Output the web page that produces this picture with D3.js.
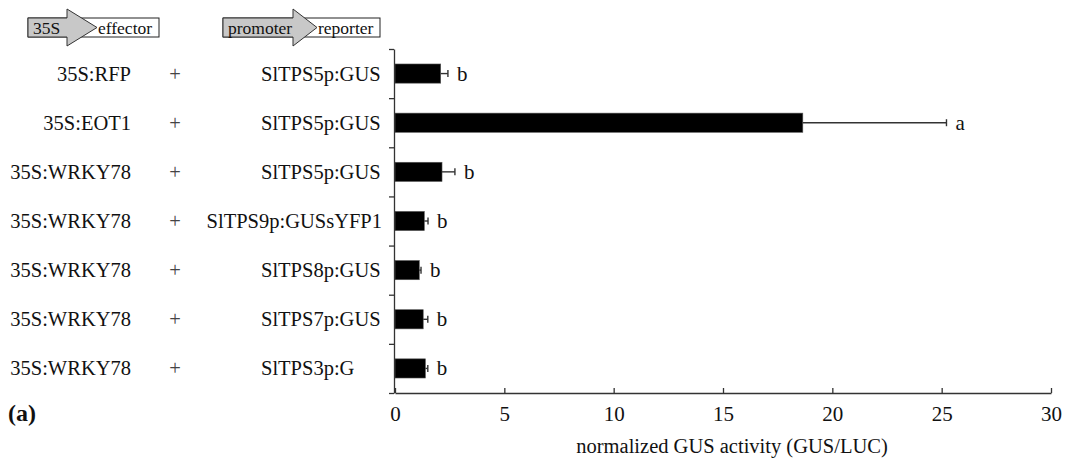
<!DOCTYPE html>
<html>
<head>
<meta charset="utf-8">
<script src="https://cdn.jsdelivr.net/npm/d3@7"></script>
<style>
  body { margin: 0; background: #fff; }
  svg { display: block; font-family: "Liberation Serif", "Times New Roman", serif; }
</style>
</head>
<body>
<svg id="chart"></svg>
<script>
// data
const effectors = ["35S:RFP", "35S:EOT1", "35S:WRKY78", "35S:WRKY78", "35S:WRKY78", "35S:WRKY78", "35S:WRKY78"];
const reporters = ["SlTPS5p:GUS", "SlTPS5p:GUS", "SlTPS5p:GUS", "SlTPS9p:GUSsYFP1", "SlTPS8p:GUS", "SlTPS7p:GUS", "SlTPS3p:G"];
const gusValues = [2.09, 18.65, 2.15, 1.34, 1.11, 1.29, 1.39];
const gusErrors = [0.33, 6.57, 0.59, 0.17, 0.08, 0.21, 0.11];
const sigLetters = ["b", "a", "b", "b", "b", "b", "b"];
const xTicks = [0, 5, 10, 15, 20, 25, 30];
const xTitle = "normalized GUS activity (GUS/LUC)";

const W = 1066, H = 463;
const plotLeft = 395, plotRight = 1051, plotTop = 49, plotBottom = 393;

const svg = d3.select('#chart')
    .attr('width', W)
    .attr('height', H);

const x = d3.scaleLinear()
    .domain([0, 30])
    .range([plotLeft, plotRight]);

const rows = d3.scaleBand()
    .domain(d3.range(gusValues.length))
    .range([plotTop, plotBottom])
    .padding(0);

const barH = rows.bandwidth() * 0.39;
const mid = i => rows(i) + rows.bandwidth() / 2;

// header schematics (promoter arrows)
function construct(x0, xBase, xTip, x1, leftText, rightText) {
    const g = svg.append('g');
    const top = 18, bot = 37, cy = (top + bot) / 2;
    g.append('rect')
        .attr('x', x0).attr('y', top)
        .attr('width', x1 - x0).attr('height', bot - top)
        .attr('fill', '#fff').attr('stroke', '#222').attr('stroke-width', 1);
    g.append('path')
        .attr('d', `M${x0},${top}H${xBase}V${top - 9}L${xTip},${cy}L${xBase},${bot + 9}V${bot}H${x0}Z`)
        .attr('fill', '#c8c8c8').attr('stroke', '#333').attr('stroke-width', 1);
    g.append('text').attr('x', x0 + 5).attr('y', cy + 6)
        .attr('font-size', 17.5).attr('fill', '#111').text(leftText);
    g.append('text').attr('x', xTip + 1).attr('y', cy + 6)
        .attr('font-size', 17.5).attr('fill', '#111').text(rightText);
}
construct(28, 67, 97, 159, "35S", "effector");
construct(223, 293, 317, 380, "promoter", "reporter");

// row labels
svg.append('g').selectAll('text')
    .data(effectors)
    .join('text')
    .attr('x', 131)
    .attr('y', (d, i) => mid(i) + 7)
    .attr('text-anchor', 'end')
    .attr('font-size', 20.5)
    .attr('fill', '#111')
    .text(d => d);

svg.append('g').selectAll('text')
    .data(effectors)
    .join('text')
    .attr('x', 175)
    .attr('y', (d, i) => mid(i) + 7)
    .attr('text-anchor', 'middle')
    .attr('font-size', 20.5)
    .attr('fill', '#444')
    .text('+');

svg.append('g').selectAll('text')
    .data(reporters)
    .join('text')
    .attr('x', 261)
    .attr('y', (d, i) => mid(i) + 7)
    .attr('font-size', 20.5)
    .attr('fill', '#111')
    .text(d => d)
    .each(function () {
        // long labels are right-aligned against the axis instead
        const w = this.getComputedTextLength();
        if (261 + w > 382) d3.select(this).attr('x', 382).attr('text-anchor', 'end');
    });

// bars
svg.append('g').selectAll('rect')
    .data(gusValues)
    .join('rect')
    .attr('x', x(0))
    .attr('y', (d, i) => mid(i) - barH / 2)
    .attr('width', d => x(d) - x(0))
    .attr('height', barH)
    .attr('fill', '#000')
    .attr('stroke', '#555')
    .attr('stroke-width', 0.6);

// error bars
const err = svg.append('g').attr('stroke', '#333').attr('stroke-width', 1.4);
gusValues.forEach((v, i) => {
    const e = v + gusErrors[i];
    err.append('line')
        .attr('x1', x(v)).attr('x2', x(e))
        .attr('y1', mid(i)).attr('y2', mid(i));
    err.append('line')
        .attr('x1', x(e)).attr('x2', x(e))
        .attr('y1', mid(i) - 3.5).attr('y2', mid(i) + 3.5);
});

// significance letters
svg.append('g').selectAll('text')
    .data(sigLetters)
    .join('text')
    .attr('x', (d, i) => x(gusValues[i] + gusErrors[i]) + 9)
    .attr('y', (d, i) => mid(i) + 7)
    .attr('font-size', 21)
    .attr('fill', '#111')
    .text(d => d);

// axes
const yAxis = d3.axisLeft(d3.scaleLinear().domain([0, gusValues.length]).range([plotTop, plotBottom]))
    .ticks(gusValues.length)
    .tickSizeInner(5)
    .tickSizeOuter(0)
    .tickFormat('');
svg.append('g')
    .attr('transform', `translate(${plotLeft - 1},0)`)
    .call(yAxis)
    .call(g => g.selectAll('path, line').attr('stroke', '#333').attr('stroke-width', 1.3));

const xAxis = d3.axisBottom(x)
    .tickValues(xTicks)
    .tickSizeInner(-5)
    .tickSizeOuter(0)
    .tickPadding(13);
svg.append('g')
    .attr('transform', `translate(0,${plotBottom})`)
    .call(xAxis)
    .call(g => g.selectAll('path, line').attr('stroke', '#333').attr('stroke-width', 1.3))
    .call(g => g.selectAll('text')
        .attr('font-size', 21)
        .attr('font-family', '"Liberation Serif", "Times New Roman", serif')
        .attr('fill', '#111'));

svg.append('text')
    .attr('x', (x(0) + x(30)) / 2 + 9)
    .attr('y', 453)
    .attr('text-anchor', 'middle')
    .attr('font-size', 20.5)
    .attr('fill', '#111')
    .text(xTitle);

svg.append('text')
    .attr('x', 8)
    .attr('y', 421)
    .attr('font-size', 24)
    .attr('font-weight', 'bold')
    .attr('fill', '#111')
    .text('(a)');
</script>
</body>
</html>
